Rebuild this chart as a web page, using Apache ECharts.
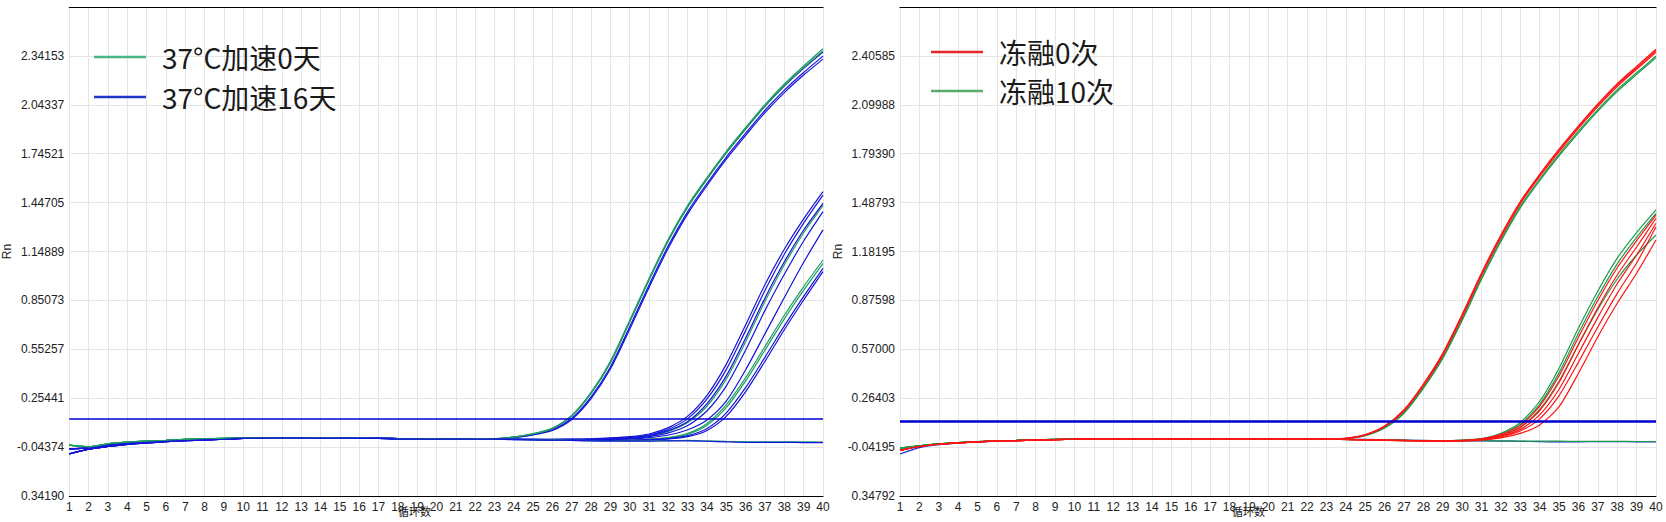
<!DOCTYPE html>
<html><head><meta charset="utf-8">
<script src="https://cdn.jsdelivr.net/npm/echarts@6/dist/echarts.min.js"></script>
<style>html,body{margin:0;padding:0;background:#fff}#c{width:1666px;height:522px}</style>
</head><body><div id="c"></div>
<script>
// ---------- categories & tick labels ----------
const cycles = ['1','2','3','4','5','6','7','8','9','10','11','12','13','14','15','16','17','18','19','20',
  '21','22','23','24','25','26','27','28','29','30','31','32','33','34','35','36','37','38','39','40'];
const yTicksLeft = ['0.34190','-0.04374','0.25441','0.55257','0.85073','1.14889','1.44705','1.74521','2.04337','2.34153',''];
const yTicksRight = ['0.34792','-0.04195','0.26403','0.57000','0.87598','1.18195','1.48793','1.79390','2.09988','2.40585',''];
const yMinLeft = -0.34190, yStepLeft = 0.29816;
const yMinRight = -0.34792, yStepRight = 0.305974;
const thresholdLeft = 0.127, thresholdRight = 0.121;
const legendLeft = ['37°C加速0天', '37°C加速16天'];
const legendRight = ['冻融0次', '冻融10次'];
const xNameText = '循环数';
const yNameText = 'Rn';

// ---------- left chart: baselines cycles 1-22 ----------
const baseLG  = [-0.032,-0.042,-0.024,-0.014,-0.007,-0.002,0.003,0.006,0.009,0.012,0.013,0.013,0.013,0.012,0.012,0.011,0.010,0.008,0.007,0.006,0.005,0.005];
const baseLB1 = [-0.055,-0.048,-0.032,-0.021,-0.013,-0.007,-0.002,0.002,0.006,0.011,0.012,0.012,0.012,0.012,0.011,0.011,0.010,0.008,0.007,0.006,0.005,0.005];
const baseLB2 = [-0.085,-0.056,-0.040,-0.027,-0.018,-0.011,-0.005,0.000,0.004,0.010,0.011,0.012,0.012,0.011,0.011,0.010,0.009,0.007,0.006,0.005,0.005,0.004];
// ---------- left chart: tails cycles 23-40 ----------
const tailLGe1 = [0.008,0.018,0.038,0.072,0.150,0.290,0.480,0.730,0.985,1.225,1.430,1.600,1.760,1.905,2.045,2.170,2.280,2.385];
const tailLGe2 = [0.007,0.017,0.036,0.069,0.145,0.283,0.470,0.720,0.975,1.215,1.420,1.590,1.750,1.895,2.035,2.160,2.270,2.372];
const tailLBe1 = [0.007,0.017,0.036,0.070,0.147,0.285,0.474,0.722,0.978,1.218,1.422,1.593,1.752,1.897,2.036,2.158,2.266,2.365];
const tailLBe2 = [0.006,0.015,0.032,0.062,0.132,0.262,0.445,0.690,0.945,1.185,1.392,1.565,1.725,1.870,2.010,2.133,2.240,2.340];
const tailLBe3 = [0.006,0.014,0.030,0.058,0.125,0.252,0.432,0.675,0.930,1.170,1.378,1.552,1.712,1.857,1.996,2.118,2.225,2.322];
const tailLBl1 = [0.005,0.004,0.004,0.004,0.005,0.007,0.012,0.020,0.036,0.075,0.145,0.272,0.462,0.702,0.948,1.163,1.348,1.514];
const tailLBl2 = [0.005,0.004,0.003,0.003,0.004,0.005,0.009,0.016,0.030,0.065,0.130,0.250,0.430,0.668,0.912,1.132,1.322,1.493];
const tailLGl1 = [0.004,0.004,0.003,0.002,0.002,0.003,0.006,0.012,0.025,0.052,0.106,0.207,0.372,0.600,0.845,1.068,1.263,1.430];
const tailLBl3 = [0.004,0.003,0.003,0.002,0.003,0.004,0.007,0.013,0.027,0.057,0.113,0.222,0.392,0.622,0.866,1.086,1.280,1.443];
const tailLBl4 = [0.004,0.003,0.002,0.001,0.001,0.002,0.004,0.009,0.020,0.043,0.088,0.178,0.330,0.548,0.790,1.010,1.213,1.392];
const tailLBl5 = [0.004,0.003,0.002,0.001,0.000,0.000,0.002,0.006,0.014,0.030,0.062,0.122,0.238,0.428,0.648,0.868,1.083,1.281];
const tailLGm1 = [0.004,0.003,0.002,0.001,0.000,-0.002,-0.002,0.000,0.005,0.014,0.040,0.100,0.215,0.380,0.570,0.760,0.935,1.097];
const tailLGm2 = [0.004,0.003,0.002,0.000,-0.001,-0.003,-0.003,-0.001,0.004,0.012,0.035,0.090,0.198,0.360,0.548,0.738,0.913,1.077];
const tailLBm1 = [0.004,0.003,0.001,0.000,-0.002,-0.004,-0.005,-0.003,0.002,0.008,0.026,0.070,0.165,0.320,0.505,0.695,0.875,1.046];
const tailLBm2 = [0.004,0.002,0.001,-0.001,-0.003,-0.005,-0.006,-0.004,0.001,0.006,0.020,0.058,0.145,0.295,0.480,0.672,0.853,1.026];
const tailLGn  = [0.004,0.003,0.002,0.000,-0.002,-0.004,-0.005,-0.006,-0.006,-0.004,-0.003,-0.006,-0.009,-0.011,-0.012,-0.012,-0.012,-0.013];
const tailLBn  = [0.004,0.002,0.001,-0.001,-0.003,-0.005,-0.006,-0.007,-0.007,-0.006,-0.006,-0.008,-0.012,-0.015,-0.015,-0.015,-0.016,-0.017];

// ---------- right chart: baselines cycles 1-22 ----------
const baseRG = [-0.048,-0.034,-0.022,-0.014,-0.008,-0.003,0.000,0.003,0.006,0.008,0.009,0.009,0.009,0.009,0.009,0.008,0.008,0.009,0.009,0.008,0.007,0.007];
const baseRR = [-0.062,-0.038,-0.024,-0.015,-0.009,-0.004,-0.001,0.002,0.005,0.007,0.009,0.009,0.009,0.009,0.009,0.008,0.009,0.010,0.010,0.009,0.008,0.007];
const baseRB = [-0.085,-0.045,-0.027,-0.017,-0.010,-0.005,-0.002,0.001,0.004,0.007,0.009,0.009,0.009,0.009,0.009,0.009,0.010,0.011,0.011,0.010,0.009,0.008];
// ---------- right chart: tails cycles 23-40 ----------
const tailRRe1 = [0.009,0.014,0.036,0.090,0.192,0.353,0.545,0.788,1.048,1.285,1.495,1.665,1.822,1.968,2.105,2.232,2.340,2.447];
const tailRRe2 = [0.008,0.013,0.035,0.088,0.188,0.348,0.540,0.782,1.042,1.280,1.490,1.660,1.816,1.962,2.098,2.224,2.332,2.438];
const tailRRe3 = [0.008,0.012,0.033,0.085,0.183,0.342,0.532,0.773,1.033,1.270,1.480,1.650,1.806,1.952,2.088,2.214,2.322,2.428];
const tailRGe1 = [0.008,0.011,0.031,0.080,0.175,0.332,0.520,0.760,1.018,1.255,1.465,1.634,1.790,1.935,2.070,2.195,2.300,2.405];
const tailRGe2 = [0.007,0.010,0.029,0.077,0.170,0.325,0.512,0.750,1.008,1.245,1.455,1.625,1.780,1.924,2.060,2.183,2.290,2.395];
const tailRGl1 = [0.007,0.006,0.004,0.002,0.000,-0.002,-0.002,0.002,0.012,0.045,0.112,0.245,0.452,0.703,0.935,1.140,1.300,1.442];
const tailRGl2 = [0.007,0.006,0.004,0.002,0.000,-0.002,-0.003,0.001,0.010,0.040,0.100,0.226,0.424,0.670,0.900,1.105,1.270,1.420];
const tailRGl3 = [0.007,0.005,0.003,0.001,-0.001,-0.003,-0.003,0.000,0.008,0.033,0.084,0.194,0.370,0.600,0.820,1.010,1.160,1.285];
const tailRRl1 = [0.008,0.006,0.004,0.002,0.000,-0.002,-0.003,0.000,0.009,0.038,0.094,0.214,0.404,0.645,0.875,1.080,1.250,1.410];
const tailRRl2 = [0.008,0.006,0.004,0.002,0.000,-0.002,-0.003,-0.001,0.007,0.032,0.081,0.187,0.364,0.600,0.830,1.035,1.210,1.390];
const tailRRl3 = [0.008,0.006,0.003,0.001,-0.001,-0.003,-0.004,-0.002,0.005,0.026,0.069,0.160,0.320,0.545,0.770,0.980,1.160,1.359];
const tailRRl4 = [0.008,0.006,0.003,0.001,-0.001,-0.003,-0.004,-0.002,0.004,0.022,0.059,0.135,0.280,0.490,0.710,0.920,1.110,1.337];
const tailRRl5 = [0.008,0.005,0.003,0.000,-0.002,-0.004,-0.005,-0.004,0.001,0.016,0.044,0.097,0.211,0.420,0.649,0.858,1.046,1.254];
const tailRGn  = [0.007,0.006,0.005,0.003,0.001,-0.001,-0.002,-0.002,-0.002,-0.003,-0.004,-0.005,-0.005,-0.006,-0.006,-0.006,-0.007,-0.007];
const tailRBn  = [0.008,0.007,0.006,0.004,0.002,0.000,-0.002,-0.003,-0.003,-0.004,-0.006,-0.008,-0.009,-0.009,-0.008,-0.008,-0.009,-0.009];

// ---------- styling ----------
const C_LG = '#1f9e62', C_LB = '#1414dc', C_RR = '#ff1414', C_RG = '#1e9a4c', C_RB = '#1a2ad0';
const C_TH = '#0000d2';

const leftCurves = [
  [legendLeft[1], C_LB, baseLB1, tailLBe2],
  [legendLeft[1], C_LB, baseLB2, tailLBe3],
  [legendLeft[1], C_LB, baseLB1, tailLBe1],
  [legendLeft[0], C_LG, baseLG, tailLGe2],
  [legendLeft[0], C_LG, baseLG, tailLGe1],
  [legendLeft[0], C_LG, baseLG, tailLGm1],
  [legendLeft[0], C_LG, baseLG, tailLGm2],
  [legendLeft[1], C_LB, baseLB2, tailLBm1],
  [legendLeft[1], C_LB, baseLB1, tailLBm2],
  [legendLeft[0], C_LG, baseLG, tailLGl1],
  [legendLeft[1], C_LB, baseLB1, tailLBl1],
  [legendLeft[1], C_LB, baseLB2, tailLBl2],
  [legendLeft[1], C_LB, baseLB1, tailLBl3],
  [legendLeft[1], C_LB, baseLB2, tailLBl4],
  [legendLeft[1], C_LB, baseLB1, tailLBl5],
  [legendLeft[0], C_LG, baseLG, tailLGn],
  [legendLeft[1], C_LB, baseLB2, tailLBn]
];
const rightCurves = [
  ['阴性', C_RB, baseRB, tailRBn],
  [legendRight[1], C_RG, baseRG, tailRGn],
  [legendRight[1], C_RG, baseRG, tailRGe1],
  [legendRight[1], C_RG, baseRG, tailRGe2],
  [legendRight[0], C_RR, baseRR, tailRRe3],
  [legendRight[0], C_RR, baseRR, tailRRe2],
  [legendRight[0], C_RR, baseRR, tailRRe1],
  [legendRight[1], C_RG, baseRG, tailRGl1],
  [legendRight[1], C_RG, baseRG, tailRGl2],
  [legendRight[1], C_RG, baseRG, tailRGl3],
  [legendRight[0], C_RR, baseRR, tailRRl1],
  [legendRight[0], C_RR, baseRR, tailRRl2],
  [legendRight[0], C_RR, baseRR, tailRRl3],
  [legendRight[0], C_RR, baseRR, tailRRl4],
  [legendRight[0], C_RR, baseRR, tailRRl5]
];

function curveSeries(def, gi) {
  return {
    type: 'line', name: def[0], xAxisIndex: gi * 2, yAxisIndex: gi,
    data: def[2].concat(def[3]),
    showSymbol: false, symbol: 'none', smooth: 0.25,
    lineStyle: { color: def[1], width: 1.2 }, itemStyle: { color: def[1] },
    silent: true, animation: false
  };
}
const series = [];
leftCurves.forEach(d => series.push(curveSeries(d, 0)));
rightCurves.forEach(d => series.push(curveSeries(d, 1)));
// threshold lines
series.push({ type: 'line', name: 'thL', xAxisIndex: 0, yAxisIndex: 0, data: [], silent: true,
  markLine: { silent: true, symbol: ['none', 'none'], label: { show: false }, animation: false,
    lineStyle: { color: C_TH, width: 1.5, type: 'solid' }, data: [{ yAxis: thresholdLeft }] } });
series.push({ type: 'line', name: 'thR', xAxisIndex: 2, yAxisIndex: 1, data: [], silent: true,
  markLine: { silent: true, symbol: ['none', 'none'], label: { show: false }, animation: false,
    lineStyle: { color: C_TH, width: 2.5, type: 'solid' }, data: [{ yAxis: thresholdRight }] } });

const gridLineColor = '#e5e5e5';
const labelFont = { color: '#222', fontSize: 12, fontFamily: 'Liberation Sans, Arial, sans-serif' };

function xAxes(gi) {
  return [
    { gridIndex: gi, type: 'category', data: cycles, boundaryGap: false, position: 'bottom',
      axisLine: { onZero: false, lineStyle: { color: '#000', width: 1 } }, axisTick: { show: false, interval: 0 },
      axisLabel: Object.assign({ interval: 0, margin: 5 }, labelFont),
      splitLine: { show: true, interval: 0, lineStyle: { color: gridLineColor, width: 1 } } },
    { gridIndex: gi, type: 'category', data: cycles, boundaryGap: false, position: 'top',
      axisLine: { onZero: false, lineStyle: { color: '#000', width: 1.2 } }, axisTick: { show: false },
      axisLabel: { show: false }, splitLine: { show: false } }
  ];
}
function yAxis(gi, ymin, ystep, labels, gap) {
  return { gridIndex: gi, type: 'value', min: ymin, max: ymin + ystep * 10, interval: ystep,
    axisLine: { show: false }, axisTick: { show: false },
    splitLine: { show: true, lineStyle: { color: gridLineColor, width: 1 } },
    axisLabel: Object.assign({ margin: 5,
      formatter: v => labels[Math.round((v - ymin) / ystep)] || '' }, labelFont),
    name: yNameText, nameLocation: 'middle', nameRotate: 90, nameGap: gap,
    nameTextStyle: { color: '#222', fontSize: 12, fontFamily: 'Liberation Sans, Arial, sans-serif' } };
}
const legendText = { fontSize: 28, color: '#1a1a1a', fontFamily: 'Noto Sans CJK SC', lineHeight: 30, padding: [0, 0, 0, 11] };

const option = {
  backgroundColor: '#fff',
  animation: false,
  grid: [
    { left: 67, top: 7, width: 756, height: 489 },
    { left: 900, top: 7, width: 756, height: 489 }
  ],
  xAxis: xAxes(0).concat(xAxes(1)),
  yAxis: [ yAxis(0, yMinLeft, yStepLeft, yTicksLeft, 42), yAxis(1, yMinRight, yStepRight, yTicksRight, 52) ],
  legend: [
    { data: [{ name: legendLeft[0], itemStyle: { color: '#4cb484' } }, { name: legendLeft[1], itemStyle: { color: '#2038c8' } }],
      orient: 'vertical', left: 89, top: 37, itemWidth: 52, itemHeight: 2.5, itemGap: 10, icon: 'rect',
      selectedMode: false, textStyle: legendText },
    { data: [{ name: legendRight[0], itemStyle: { color: '#e8242c' } }, { name: legendRight[1], itemStyle: { color: '#5aaa6a' } }],
      orient: 'vertical', left: 926, top: 32, itemWidth: 52, itemHeight: 2.5, itemGap: 9, icon: 'rect',
      selectedMode: false, textStyle: legendText }
  ],
  graphic: [
    { type: 'text', left: 398, top: 505, silent: true,
      style: { text: xNameText, fontSize: 11, fill: '#111', fontFamily: 'Noto Sans CJK SC' } },
    { type: 'text', left: 1232, top: 505, silent: true,
      style: { text: xNameText, fontSize: 11, fill: '#111', fontFamily: 'Noto Sans CJK SC' } }
  ],
  series: series
};
const chart = echarts.init(document.getElementById('c'), null, { renderer: 'svg' });
chart.setOption(option);
</script></body></html>
